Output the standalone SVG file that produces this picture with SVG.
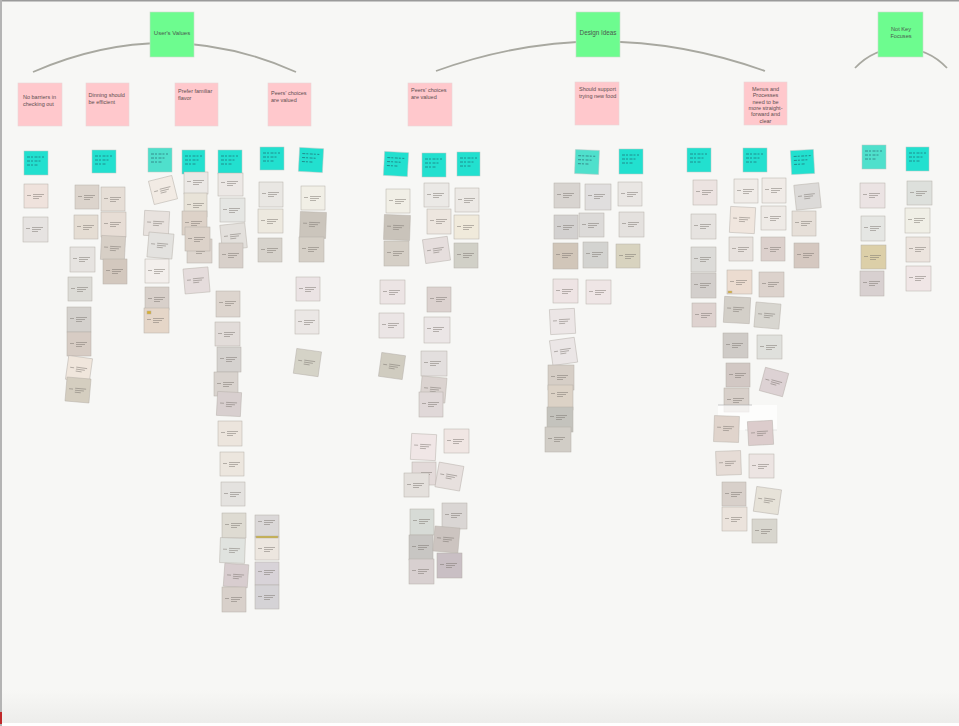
<svg xmlns="http://www.w3.org/2000/svg" xmlns:xlink="http://www.w3.org/1999/xlink" width="959" height="726" viewBox="0 0 959 726">
<style>
.hdr rect{fill:#6dfc8f;stroke:#c8dcc8;stroke-width:.6}
.hdr text{font-family:"Liberation Sans",Arial,sans-serif;fill:#4a5a4e}
.pk rect{fill:#ffc8cc;stroke:#ead6d6;stroke-width:.6}
.pk text{font-family:"Liberation Sans",Arial,sans-serif;font-size:5.5px;fill:#5e4e50}
.cy rect{fill:#22e0cf;stroke:#b8c8c4;stroke-width:.5}
.cy rect.lt{fill:#4fe0cc}
.note rect{stroke:#b5afa9;stroke-width:.5}
.arc{fill:none;stroke:#a8a8a0;stroke-width:1.8}
</style>
<defs>
<path id="gl" d="M3,11.5h4M9,10.5h11M9,12.5h9M9,14.5h6" stroke="#7a746e" stroke-width=".5" fill="none"/>
<path id="hw" d="M3,6h17M3,10h15M3,14h11" stroke="#1f4a58" stroke-width=".55" stroke-dasharray="3 1 2 1.5" fill="none"/>
<linearGradient id="bot" x1="0" y1="0" x2="0" y2="1">
<stop offset="0" stop-color="#f7f7f5"/>
<stop offset="1" stop-color="#ededeb"/>
</linearGradient>
</defs>
<rect width="959" height="726" fill="#f7f7f5"/>
<rect x="0" y="690" width="959" height="33" fill="url(#bot)"/>
<rect x="0" y="723" width="959" height="3" fill="#ffffff"/>
<rect x="0" y="0" width="959" height="1.5" fill="#9a9a9a"/>
<rect x="0" y="0" width="2" height="726" fill="#b4b4b4"/>
<rect x="0" y="712" width="2" height="12" fill="#c0282a"/>

<g id="connectors">
<path class="arc" d="M33,72 Q166,14 296,72"/>
<path class="arc" d="M436,71 Q600,12 765,71"/>
<path class="arc" d="M855,68 A63,63 0 0 1 947,68"/>
</g>

<g id="h-values" class="hdr"><rect x="150" y="12" width="44" height="45"/><text x="172" y="35" font-size="6" text-anchor="middle">User's Values</text></g>
<g id="h-design" class="hdr"><rect x="576" y="12" width="44" height="45"/><text x="598" y="35" font-size="6.3" text-anchor="middle">Design Ideas</text></g>
<g id="h-notkey" class="hdr"><rect x="878" y="12" width="45" height="45"/><text x="901" y="31" font-size="5.6" text-anchor="middle">Not Key</text><text x="901" y="38" font-size="5.6" text-anchor="middle">Focuses</text></g>

<g id="p1" class="pk"><rect x="18" y="83" width="44" height="43"/><text x="23" y="99">No barriers in</text><text x="23" y="105.5">checking out</text></g>
<g id="p2" class="pk"><rect x="86" y="83" width="43" height="43"/><text x="88.5" y="97">Dinning should</text><text x="88.5" y="103.5">be efficient</text></g>
<g id="p3" class="pk"><rect x="175" y="83" width="43" height="43"/><text x="178" y="93">Prefer familiar</text><text x="178" y="100">flavor</text></g>
<g id="p4" class="pk"><rect x="268" y="83" width="43" height="43"/><text x="271" y="95">Peers’ choices</text><text x="271" y="102">are valued</text></g>
<g id="p5" class="pk"><rect x="408" y="83" width="44" height="43"/><text x="411" y="92">Peers’ choices</text><text x="411" y="99">are valued</text></g>
<g id="p6" class="pk"><rect x="575" y="82" width="44" height="43"/><text x="579" y="91">Should support</text><text x="579" y="98">trying new food</text></g>
<g id="p7" class="pk"><rect x="744" y="82" width="43" height="43"/><text text-anchor="middle" x="765.5" y="91">Menus and</text><text text-anchor="middle" x="765.5" y="97.3">Processes</text><text text-anchor="middle" x="765.5" y="103.6">need to be</text><text text-anchor="middle" x="765.5" y="110">more straight-</text><text text-anchor="middle" x="765.5" y="116.3">forward and</text><text text-anchor="middle" x="765.5" y="122.6">clear</text></g>

<g id="cyan-notes">
<g id="c1" class="cy"><rect x="24" y="151" width="24" height="24"/><use href="#hw" x="24" y="151"/></g>
<g id="c2" class="cy"><rect x="92" y="150" width="24" height="23"/><use href="#hw" x="92" y="150"/></g>
<g id="c3" class="cy"><rect class="lt" x="148" y="148" width="24" height="24"/><use href="#hw" x="148" y="148"/></g>
<g id="c4" class="cy"><rect x="182" y="150" width="23" height="24"/><use href="#hw" x="182" y="150"/></g>
<g id="c5" class="cy"><rect x="218" y="150" width="24" height="24"/><use href="#hw" x="218" y="150"/></g>
<g id="c6" class="cy"><rect x="260" y="147" width="24" height="23"/><use href="#hw" x="260" y="147"/></g>
<g id="c7" class="cy" transform="rotate(3 311 160)"><rect x="299" y="148" width="24" height="24"/><use href="#hw" x="299" y="148"/></g>
<g id="c8" class="cy" transform="rotate(3 396 164)"><rect x="384" y="152" width="24" height="24"/><use href="#hw" x="384" y="152"/></g>
<g id="c9" class="cy"><rect x="422" y="153" width="24" height="24"/><use href="#hw" x="422" y="153"/></g>
<g id="c10" class="cy"><rect x="457" y="152" width="23" height="24"/><use href="#hw" x="457" y="152"/></g>
<g id="c11" class="cy" transform="rotate(2 587 162)"><rect class="lt" x="575" y="150" width="24" height="24"/><use href="#hw" x="575" y="150"/></g>
<g id="c12" class="cy"><rect x="619" y="149" width="24" height="25"/><use href="#hw" x="619" y="149"/></g>
<g id="c13" class="cy"><rect x="687" y="148" width="24" height="24"/><use href="#hw" x="687" y="148"/></g>
<g id="c14" class="cy"><rect x="743" y="148" width="24" height="24"/><use href="#hw" x="743" y="148"/></g>
<g id="c15" class="cy" transform="rotate(-3 803 162)"><rect x="791" y="150" width="23" height="24"/><use href="#hw" x="791" y="150"/></g>
<g id="c16" class="cy"><rect class="lt" x="862" y="145" width="24" height="24"/><use href="#hw" x="862" y="145"/></g>
<g id="c17" class="cy"><rect x="906" y="147" width="23" height="24"/><use href="#hw" x="906" y="147"/></g>
</g>

<g id="grey-notes">
<g id="a1" class="note"><rect x="24" y="184" width="24" height="24" fill="#efe2dc"/><use href="#gl" x="24" y="184"/></g>
<g id="a2" class="note"><rect x="23" y="217" width="25" height="25" fill="#e6e3e1"/><use href="#gl" x="23" y="217"/></g>
<g id="b1" class="note"><rect x="75" y="185" width="24" height="24" fill="#dcd4cc"/><use href="#gl" x="75" y="185"/></g>
<g id="b2" class="note"><rect x="101" y="187" width="24" height="24" fill="#e6ded6"/><use href="#gl" x="101" y="187"/></g>
<g id="b3" class="note"><rect x="74" y="215" width="24" height="24" fill="#e5ddd3"/><use href="#gl" x="74" y="215"/></g>
<g id="b4" class="note"><rect x="101" y="212" width="25" height="25" fill="#e7ddd5"/><use href="#gl" x="101" y="212"/></g>
<g id="b5" class="note" transform="rotate(3 113 248)"><rect x="101" y="236" width="24" height="24" fill="#d7cfc6"/><use href="#gl" x="101" y="236"/></g>
<g id="b6" class="note"><rect x="103" y="259" width="24" height="25" fill="#d3c8be"/><use href="#gl" x="103" y="259"/></g>
<g id="b7" class="note"><rect x="70" y="247" width="25" height="25" fill="#e6e3e0"/><use href="#gl" x="70" y="247"/></g>
<g id="b8" class="note"><rect x="68" y="277" width="24" height="24" fill="#dcdbd6"/><use href="#gl" x="68" y="277"/></g>
<g id="b9" class="note"><rect x="67" y="307" width="24" height="25" fill="#d4d1cd"/><use href="#gl" x="67" y="307"/></g>
<g id="b10" class="note"><rect x="67" y="332" width="24" height="24" fill="#d7ccc4"/><use href="#gl" x="67" y="332"/></g>
<g id="b11" class="note" transform="rotate(8 79 369)"><rect x="67" y="357" width="24" height="24" fill="#f0e6dc"/><use href="#gl" x="67" y="357"/></g>
<g id="b12" class="note" transform="rotate(5 78 390)"><rect x="66" y="378" width="24" height="24" fill="#d5cec0"/><use href="#gl" x="66" y="378"/></g>
<g id="c-1" class="note" transform="rotate(-14 163 190)"><rect x="151" y="178" width="24" height="24" fill="#f2ebe4"/><use href="#gl" x="151" y="178"/></g>
<g id="c-2" class="note" transform="rotate(3 157 224)"><rect x="144" y="211" width="25" height="25" fill="#e8e2de"/><use href="#gl" x="144" y="211"/></g>
<g id="c-3" class="note" transform="rotate(5 160 245)"><rect x="148" y="233" width="25" height="25" fill="#e3e2df"/><use href="#gl" x="148" y="233"/></g>
<g id="c-4" class="note"><rect x="145" y="259" width="24" height="24" fill="#f3efec"/><use href="#gl" x="145" y="259"/></g>
<g id="c-5" class="note"><rect x="145" y="287" width="24" height="23" fill="#d8d0ca"/><use href="#gl" x="145" y="287"/></g>
<g id="c-6" class="note"><rect x="144" y="308" width="25" height="25" fill="#e5d6c8"/><rect x="147" y="311" width="4" height="3" fill="#d8b030"/><use href="#gl" x="144" y="308"/></g>
<g id="d1" class="note"><rect x="184" y="172" width="24" height="22" fill="#ebe8e5"/><use href="#gl" x="184" y="170"/></g>
<g id="d2" class="note"><rect x="184" y="193" width="23" height="24" fill="#e8e3d8"/><use href="#gl" x="184" y="193"/></g>
<g id="d5" class="note"><rect x="187" y="239" width="25" height="24" fill="#ddd5ce"/><use href="#gl" x="187" y="239"/></g>
<g id="d3" class="note"><rect x="182" y="211" width="25" height="24" fill="#ddd2c8"/><use href="#gl" x="182" y="211"/></g>
<g id="d4" class="note"><rect x="185" y="227" width="25" height="24" fill="#dcd2c9"/><use href="#gl" x="185" y="227"/></g>
<g id="d6" class="note" transform="rotate(-5 196 280)"><rect x="184" y="268" width="25" height="25" fill="#e5dcdc"/><use href="#gl" x="184" y="268"/></g>
<g id="e1" class="note"><rect x="218" y="173" width="25" height="23" fill="#ece8e5"/><use href="#gl" x="218" y="171"/></g>
<g id="e2" class="note"><rect x="220" y="198" width="25" height="24" fill="#e5e6e3"/><use href="#gl" x="220" y="198"/></g>
<g id="e3" class="note" transform="rotate(-6 233 236)"><rect x="221" y="224" width="25" height="25" fill="#e3e0dc"/><use href="#gl" x="221" y="224"/></g>
<g id="e4" class="note"><rect x="219" y="243" width="24" height="25" fill="#d8d0ca"/><use href="#gl" x="219" y="243"/></g>
<g id="e5" class="note"><rect x="216" y="291" width="24" height="26" fill="#ddd5ce"/><use href="#gl" x="216" y="291"/></g>
<g id="e6" class="note"><rect x="215" y="322" width="25" height="24" fill="#e2dcd9"/><use href="#gl" x="215" y="322"/></g>
<g id="e7" class="note"><rect x="217" y="347" width="24" height="25" fill="#d5d2cf"/><use href="#gl" x="217" y="347"/></g>
<g id="e8" class="note"><rect x="214" y="372" width="24" height="24" fill="#d9d3ce"/><use href="#gl" x="214" y="372"/></g>
<g id="e9" class="note" transform="rotate(3 229 404)"><rect x="217" y="392" width="24" height="24" fill="#d8cfcf"/><use href="#gl" x="217" y="392"/></g>
<g id="e10" class="note"><rect x="218" y="421" width="24" height="25" fill="#ece5dd"/><use href="#gl" x="218" y="421"/></g>
<g id="e11" class="note"><rect x="220" y="452" width="24" height="24" fill="#ece6de"/><use href="#gl" x="220" y="452"/></g>
<g id="e12" class="note"><rect x="221" y="482" width="24" height="24" fill="#e4e2df"/><use href="#gl" x="221" y="482"/></g>
<g id="e13" class="note"><rect x="222" y="513" width="24" height="25" fill="#dedbd2"/><use href="#gl" x="222" y="513"/></g>
<g id="e14" class="note" transform="rotate(2 233 550)"><rect x="220" y="538" width="25" height="25" fill="#e0e3df"/><use href="#gl" x="220" y="538"/></g>
<g id="e15" class="note" transform="rotate(4 236 576)"><rect x="224" y="564" width="24" height="23" fill="#d8cdcf"/><use href="#gl" x="224" y="564"/></g>
<g id="e16" class="note"><rect x="222" y="587" width="24" height="25" fill="#d8d0ca"/><use href="#gl" x="222" y="587"/></g>
<g id="f1" class="note"><rect x="255" y="515" width="24" height="22" fill="#dbd8d8"/><use href="#gl" x="255" y="510"/></g>
<g id="f2" class="note"><rect x="255" y="537" width="24" height="23" fill="#ece6df"/><rect x="256" y="536" width="22" height="2" fill="#c8b040"/><use href="#gl" x="255" y="537"/></g>
<g id="f3" class="note"><rect x="255" y="562" width="24" height="23" fill="#d8d3d8"/><use href="#gl" x="255" y="560"/></g>
<g id="f4" class="note"><rect x="255" y="585" width="24" height="24" fill="#d5d3d6"/><use href="#gl" x="255" y="585"/></g>
<g id="g1" class="note"><rect x="259" y="182" width="24" height="25" fill="#e9e7e3"/><use href="#gl" x="259" y="182"/></g>
<g id="g2" class="note"><rect x="258" y="209" width="25" height="24" fill="#ede9df"/><use href="#gl" x="258" y="209"/></g>
<g id="g3" class="note"><rect x="258" y="238" width="24" height="24" fill="#d7d3cc"/><use href="#gl" x="258" y="238"/></g>
<g id="h1" class="note"><rect x="301" y="186" width="24" height="24" fill="#f1efe6"/><use href="#gl" x="301" y="186"/></g>
<g id="h2" class="note" transform="rotate(2 313 225)"><rect x="300" y="212" width="26" height="26" fill="#cbc5bc"/><use href="#gl" x="300" y="212"/></g>
<g id="h3" class="note"><rect x="299" y="237" width="25" height="25" fill="#d5cfc6"/><use href="#gl" x="299" y="237"/></g>
<g id="h4" class="note"><rect x="296" y="277" width="24" height="24" fill="#ebe3e4"/><use href="#gl" x="296" y="277"/></g>
<g id="h5" class="note"><rect x="295" y="310" width="24" height="24" fill="#ebe7e5"/><use href="#gl" x="295" y="310"/></g>
<g id="h6" class="note" transform="rotate(8 307 362)"><rect x="295" y="350" width="25" height="25" fill="#d5d3c7"/><use href="#gl" x="295" y="350"/></g>

<g id="i1" class="note"><rect x="386" y="189" width="24" height="24" fill="#f1efe6"/><use href="#gl" x="386" y="189"/></g>
<g id="i2" class="note" transform="rotate(2 397 227)"><rect x="384" y="215" width="26" height="25" fill="#c9c3ba"/><use href="#gl" x="384" y="215"/></g>
<g id="i3" class="note"><rect x="384" y="241" width="25" height="25" fill="#d5cfc6"/><use href="#gl" x="384" y="241"/></g>
<g id="i4" class="note"><rect x="380" y="280" width="25" height="24" fill="#ece4e4"/><use href="#gl" x="380" y="280"/></g>
<g id="i5" class="note"><rect x="379" y="313" width="25" height="25" fill="#ebe5e5"/><use href="#gl" x="379" y="313"/></g>
<g id="i6" class="note" transform="rotate(8 392 366)"><rect x="380" y="354" width="24" height="24" fill="#d0ccc0"/><use href="#gl" x="380" y="354"/></g>
<g id="j1" class="note"><rect x="424" y="183" width="25" height="24" fill="#ebe9e6"/><use href="#gl" x="424" y="183"/></g>
<g id="j2" class="note"><rect x="427" y="209" width="24" height="25" fill="#ede6df"/><use href="#gl" x="427" y="209"/></g>
<g id="j3" class="note" transform="rotate(-8 436 250)"><rect x="424" y="238" width="25" height="24" fill="#e6dedd"/><use href="#gl" x="424" y="238"/></g>
<g id="j4" class="note"><rect x="427" y="287" width="24" height="25" fill="#dcd2cf"/><use href="#gl" x="427" y="287"/></g>
<g id="j5" class="note"><rect x="424" y="317" width="26" height="26" fill="#ebe6e6"/><use href="#gl" x="424" y="317"/></g>
<g id="j6" class="note"><rect x="421" y="351" width="26" height="25" fill="#e3dfde"/><use href="#gl" x="421" y="351"/></g>
<g id="j7" class="note" transform="rotate(5 433 389)"><rect x="421" y="377" width="25" height="25" fill="#dbd3d0"/><use href="#gl" x="421" y="377"/></g>
<g id="j8" class="note"><rect x="419" y="392" width="24" height="25" fill="#e0d8d8"/><use href="#gl" x="419" y="392"/></g>
<g id="k1" class="note"><rect x="455" y="188" width="24" height="24" fill="#ece9e5"/><use href="#gl" x="455" y="188"/></g>
<g id="k2" class="note"><rect x="454" y="215" width="25" height="24" fill="#f0eadb"/><use href="#gl" x="454" y="215"/></g>
<g id="k3" class="note"><rect x="454" y="243" width="24" height="25" fill="#d1d0c7"/><use href="#gl" x="454" y="243"/></g>
<g id="l1" class="note" transform="rotate(3 423 447)"><rect x="411" y="434" width="25" height="26" fill="#f0e6e6"/><use href="#gl" x="411" y="434"/></g>
<g id="l2" class="note"><rect x="444" y="429" width="25" height="24" fill="#f0e6e3"/><use href="#gl" x="444" y="429"/></g>
<g id="l3" class="note"><rect x="412" y="462" width="24" height="23" fill="#e3dad9"/><use href="#gl" x="412" y="462"/></g>
<g id="l4" class="note"><rect x="404" y="473" width="25" height="24" fill="#e4e0dc"/><use href="#gl" x="404" y="473"/></g>
<g id="l5" class="note" transform="rotate(10 449 476)"><rect x="437" y="464" width="25" height="25" fill="#e7e0de"/><use href="#gl" x="437" y="464"/></g>
<g id="l6" class="note"><rect x="410" y="509" width="24" height="26" fill="#d7dbd6"/><use href="#gl" x="410" y="509"/></g>
<g id="l7" class="note"><rect x="442" y="503" width="25" height="26" fill="#dad6d4"/><use href="#gl" x="442" y="503"/></g>
<g id="l8" class="note"><rect x="409" y="535" width="24" height="25" fill="#c8c6c3"/><use href="#gl" x="409" y="535"/></g>
<g id="l9" class="note" transform="rotate(5 446 539)"><rect x="434" y="527" width="25" height="25" fill="#ccc4c0"/><use href="#gl" x="434" y="527"/></g>
<g id="l10" class="note"><rect x="409" y="559" width="25" height="25" fill="#d8d0d0"/><use href="#gl" x="409" y="559"/></g>
<g id="l11" class="note"><rect x="437" y="553" width="25" height="25" fill="#c9bfc4"/><use href="#gl" x="437" y="553"/></g>

<g id="m1" class="note"><rect x="554" y="183" width="26" height="25" fill="#d8d4d0"/><use href="#gl" x="554" y="183"/></g>
<g id="m2" class="note"><rect x="554" y="215" width="24" height="24" fill="#d3d1d0"/><use href="#gl" x="554" y="215"/></g>
<g id="m3" class="note"><rect x="553" y="243" width="25" height="26" fill="#d1c6b9"/><use href="#gl" x="553" y="243"/></g>
<g id="m4" class="note"><rect x="553" y="279" width="25" height="24" fill="#eee4e4"/><use href="#gl" x="553" y="279"/></g>
<g id="m5" class="note" transform="rotate(-3 562 321)"><rect x="550" y="309" width="25" height="25" fill="#ece6e6"/><use href="#gl" x="550" y="309"/></g>
<g id="m6" class="note" transform="rotate(-8 563 351)"><rect x="551" y="339" width="25" height="25" fill="#ebe6e6"/><use href="#gl" x="551" y="339"/></g>
<g id="m7" class="note"><rect x="548" y="365" width="26" height="25" fill="#d6cec6"/><use href="#gl" x="548" y="365"/></g>
<g id="m8" class="note"><rect x="548" y="385" width="25" height="25" fill="#dcd2c6"/><use href="#gl" x="548" y="382"/></g>
<g id="m9" class="note"><rect x="547" y="407" width="26" height="25" fill="#c4c3bd"/><use href="#gl" x="547" y="405"/></g>
<g id="m10" class="note"><rect x="545" y="427" width="26" height="25" fill="#d1cdc6"/><use href="#gl" x="545" y="427"/></g>
<g id="n1" class="note"><rect x="585" y="184" width="26" height="26" fill="#e0dede"/><use href="#gl" x="585" y="184"/></g>
<g id="n2" class="note"><rect x="579" y="213" width="25" height="24" fill="#dcdad8"/><use href="#gl" x="579" y="213"/></g>
<g id="n3" class="note"><rect x="583" y="242" width="25" height="26" fill="#d3d3d0"/><use href="#gl" x="583" y="242"/></g>
<g id="n4" class="note"><rect x="586" y="280" width="25" height="24" fill="#efe6e6"/><use href="#gl" x="586" y="280"/></g>
<g id="o1" class="note"><rect x="618" y="182" width="24" height="24" fill="#e9e6e3"/><use href="#gl" x="618" y="182"/></g>
<g id="o2" class="note"><rect x="619" y="212" width="25" height="25" fill="#e4e1de"/><use href="#gl" x="619" y="212"/></g>
<g id="o3" class="note"><rect x="616" y="244" width="24" height="24" fill="#d8d3bf"/><use href="#gl" x="616" y="244"/></g>

<g id="p-1" class="note"><rect x="693" y="180" width="24" height="25" fill="#ece3e1"/><use href="#gl" x="693" y="180"/></g>
<g id="p-2" class="note"><rect x="691" y="214" width="25" height="25" fill="#e6e3e0"/><use href="#gl" x="691" y="214"/></g>
<g id="p-3" class="note"><rect x="691" y="247" width="25" height="25" fill="#dcdbd8"/><use href="#gl" x="691" y="247"/></g>
<g id="p-4" class="note"><rect x="691" y="273" width="25" height="25" fill="#d3cfcc"/><use href="#gl" x="691" y="273"/></g>
<g id="p-5" class="note"><rect x="692" y="303" width="24" height="24" fill="#ded2cf"/><use href="#gl" x="692" y="303"/></g>
<g id="q1" class="note"><rect x="734" y="179" width="24" height="24" fill="#f0ece8"/><use href="#gl" x="734" y="179"/></g>
<g id="q2" class="note" transform="rotate(3 742 220)"><rect x="730" y="207" width="25" height="26" fill="#f0e6de"/><use href="#gl" x="730" y="207"/></g>
<g id="q3" class="note"><rect x="729" y="237" width="24" height="24" fill="#e8e2de"/><use href="#gl" x="729" y="237"/></g>
<g id="q4" class="note"><rect x="727" y="270" width="25" height="24" fill="#ecdcd0"/><rect x="728" y="291" width="4" height="2" fill="#d8b030"/><use href="#gl" x="727" y="270"/></g>
<g id="q5" class="note" transform="rotate(3 737 310)"><rect x="724" y="297" width="26" height="26" fill="#d3cfc8"/><use href="#gl" x="724" y="297"/></g>
<g id="q6" class="note"><rect x="723" y="333" width="25" height="25" fill="#cfcbc7"/><use href="#gl" x="723" y="333"/></g>
<g id="q7" class="note"><rect x="726" y="363" width="24" height="24" fill="#d2c8c4"/><use href="#gl" x="726" y="363"/></g>
<g id="q8" class="note"><rect x="724" y="388" width="25" height="24" fill="#d8d0ca"/><use href="#gl" x="724" y="388"/></g>
<g id="patch"><rect x="718" y="405" width="59" height="25" fill="#ffffff" opacity=".7"/><line x1="718" y1="405" x2="752" y2="405" stroke="#aaaaaa" stroke-width=".6"/><line x1="745" y1="430" x2="777" y2="430" stroke="#d0d0d0" stroke-width=".5"/></g>
<g id="q9" class="note" transform="rotate(2 726 429)"><rect x="714" y="416" width="25" height="26" fill="#e0d4cc"/><use href="#gl" x="714" y="416"/></g>
<g id="q10" class="note" transform="rotate(-2 728 463)"><rect x="716" y="451" width="25" height="24" fill="#e6dcd6"/><use href="#gl" x="716" y="451"/></g>
<g id="q11" class="note"><rect x="722" y="482" width="24" height="24" fill="#d8d0ca"/><use href="#gl" x="722" y="482"/></g>
<g id="q12" class="note"><rect x="722" y="507" width="25" height="24" fill="#ebe3dc"/><use href="#gl" x="722" y="507"/></g>
<g id="r1" class="note"><rect x="762" y="178" width="24" height="25" fill="#f0ebe7"/><use href="#gl" x="762" y="178"/></g>
<g id="r2" class="note"><rect x="761" y="206" width="25" height="24" fill="#eeeae6"/><use href="#gl" x="761" y="206"/></g>
<g id="r3" class="note"><rect x="761" y="237" width="24" height="24" fill="#dcd0cc"/><use href="#gl" x="761" y="237"/></g>
<g id="r4" class="note"><rect x="759" y="272" width="25" height="25" fill="#dcd2cc"/><use href="#gl" x="759" y="272"/></g>
<g id="r5" class="note" transform="rotate(5 767 315)"><rect x="755" y="303" width="25" height="25" fill="#d8d6d0"/><use href="#gl" x="755" y="303"/></g>
<g id="r6" class="note"><rect x="757" y="335" width="25" height="24" fill="#dfe0dc"/><use href="#gl" x="757" y="335"/></g>
<g id="r7" class="note" transform="rotate(15 774 382)"><rect x="762" y="370" width="24" height="24" fill="#ddd2d4"/><use href="#gl" x="762" y="370"/></g>
<g id="r8" class="note" transform="rotate(-3 760 433)"><rect x="748" y="421" width="25" height="24" fill="#dccccc"/><use href="#gl" x="748" y="421"/></g>
<g id="r9" class="note"><rect x="749" y="454" width="25" height="24" fill="#ece4e2"/><use href="#gl" x="749" y="454"/></g>
<g id="r10" class="note" transform="rotate(8 767 500)"><rect x="755" y="488" width="25" height="25" fill="#e6e2d8"/><use href="#gl" x="755" y="488"/></g>
<g id="r11" class="note"><rect x="752" y="519" width="25" height="24" fill="#d8d6ce"/><use href="#gl" x="752" y="519"/></g>
<g id="s1" class="note" transform="rotate(-6 807 196)"><rect x="795" y="184" width="25" height="25" fill="#dcdad8"/><use href="#gl" x="795" y="184"/></g>
<g id="s2" class="note"><rect x="792" y="211" width="24" height="25" fill="#e6dfd8"/><use href="#gl" x="792" y="211"/></g>
<g id="s3" class="note"><rect x="794" y="243" width="25" height="25" fill="#d5c8c0"/><use href="#gl" x="794" y="243"/></g>

<g id="t1" class="note"><rect x="860" y="183" width="25" height="25" fill="#ebe3e3"/><use href="#gl" x="860" y="183"/></g>
<g id="t2" class="note"><rect x="861" y="216" width="24" height="25" fill="#e5e6e3"/><use href="#gl" x="861" y="216"/></g>
<g id="t3" class="note"><rect x="861" y="245" width="25" height="24" fill="#dccfa8"/><use href="#gl" x="861" y="245"/></g>
<g id="t4" class="note"><rect x="860" y="271" width="24" height="25" fill="#d8d0d0"/><use href="#gl" x="860" y="271"/></g>
<g id="u1" class="note"><rect x="907" y="181" width="25" height="24" fill="#dde0dc"/><use href="#gl" x="907" y="181"/></g>
<g id="u2" class="note"><rect x="905" y="208" width="25" height="25" fill="#f0efe6"/><use href="#gl" x="905" y="208"/></g>
<g id="u3" class="note"><rect x="906" y="237" width="24" height="25" fill="#ece4de"/><use href="#gl" x="906" y="237"/></g>
<g id="u4" class="note"><rect x="906" y="266" width="25" height="25" fill="#f0e6e6"/><use href="#gl" x="906" y="266"/></g>
</g>
</svg>
